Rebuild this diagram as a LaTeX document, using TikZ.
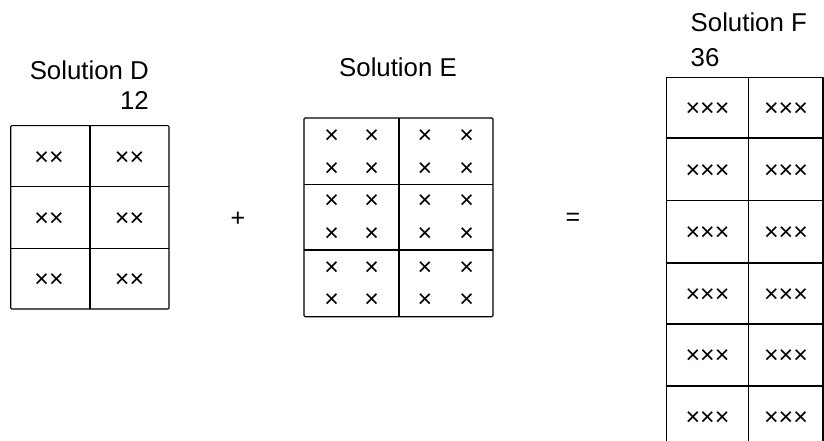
\documentclass[tikz,border=0pt]{standalone}
\usepackage{fontspec}
\setmainfont{Liberation Sans}
\begin{document}
\begin{tikzpicture}[x=1pt,y=-1pt,
  grid/.style={line width=1.1pt, line join=round},
  lbl/.style={font=\fontsize{25.8}{30}\selectfont, inner sep=0, anchor=base},
  xx/.style={font=\fontsize{25}{30}\selectfont, inner sep=0, anchor=base}]
\useasboundingbox (0,0) rectangle (824,441);
\clip (0,0) rectangle (824,441);
% titles
\node[lbl, anchor=base east] (tD) at (149,80) {Solution D};
\node[lbl, anchor=base east] (nD) at (149,110) {12};
\node[lbl] (tE) at (398,77) {Solution E};
\node[lbl, anchor=base west] (tF) at (690.5,31.5) {Solution F};
\node[lbl, anchor=base west] (nF) at (690.5,66.5) {36};
% operators
\node[xx] (plus) at (238,226.5) {+};
\node[xx] (eq) at (573,225.5) {=};
% Solution D grid
\draw[grid, rounded corners=1pt] (10.7,125.7) rectangle (169,309);
\draw[grid] (90,125.7) -- (90,309);
\draw[grid] (10.7,186.7) -- (169,186.7);
\draw[grid] (10.7,248.3) -- (169,248.3);
\foreach \c/\x in {1/49,2/129.5}
  \foreach \r/\y in {1/157,2/218,3/279}
    \node[xx] (d\r\c) at (\x,\y+8.5) {××};
% Solution E grid
\draw[grid, rounded corners=1pt] (304,118) rectangle (493,316.7);
\draw[grid] (399,118) -- (399,316.7);
\draw[grid] (304,184.3) -- (493,184.3);
\draw[grid] (304,250) -- (493,250);
\foreach \c/\x in {1/331.7,2/371.7,3/425,4/466.7}
  \foreach \r/\y in {1/135,2/167.7,3/200,4/233,5/267,6/299}
    \node[xx] (e\r\c) at (\x,\y+8.5) {×};
% Solution F grid
\draw[grid] (666.7,77.7) rectangle (823,448);
\draw[grid] (748.3,77.7) -- (748.3,448);
\foreach \y in {138,200.7,263,324,386}
  \draw[grid] (666.7,\y) -- (823,\y);
\foreach \c/\x in {1/707.5,2/786}
  \foreach \r/\y in {1/108,2/169.5,3/232,4/293.5,5/355,6/417}
    \node[xx] (f\r\c) at (\x,\y+8.5) {×××};
\end{tikzpicture}
\end{document}
